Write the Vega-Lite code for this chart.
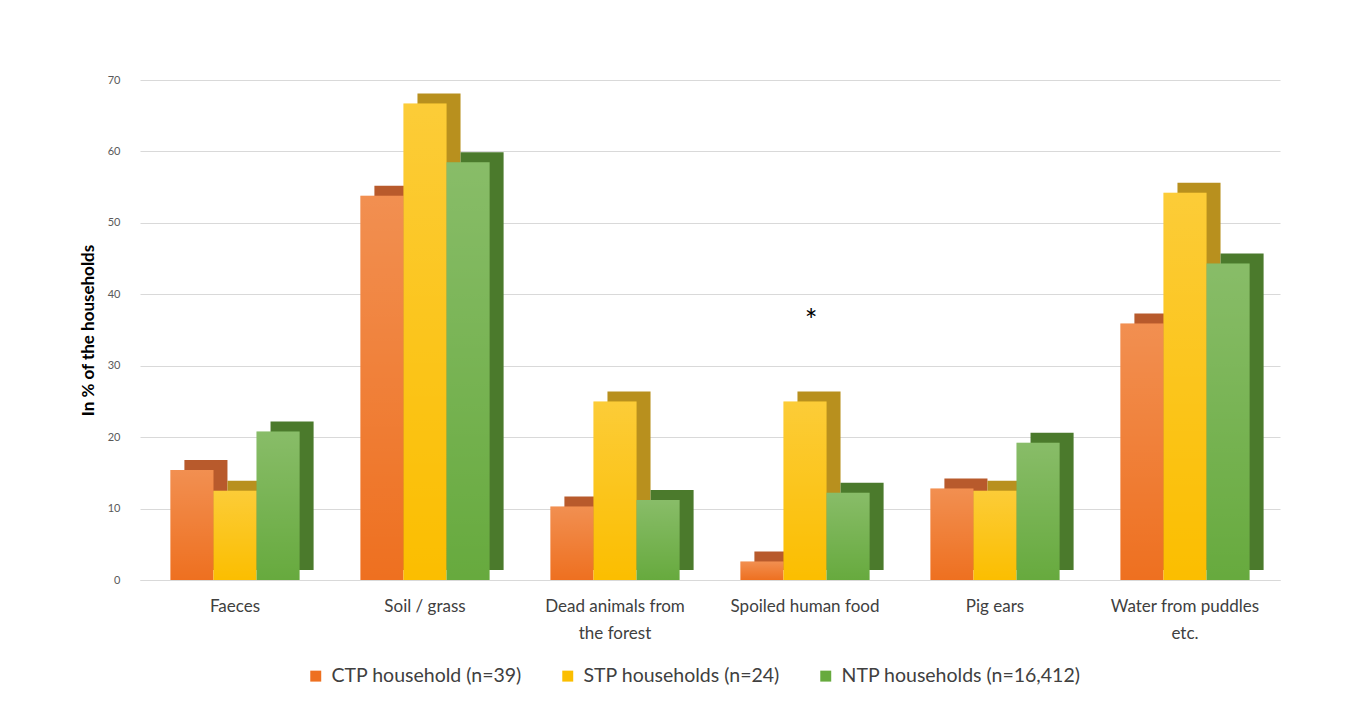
{
  "$schema": "https://vega.github.io/schema/vega-lite/v6.json",
  "autosize": {"type": "none"},
  "width": 1140,
  "height": 500,
  "padding": {"left": 140, "top": 80, "right": 84, "bottom": 144},
  "background": "white",
  "config": {"font": "Lato", "view": {"stroke": null}},
  "data": {
    "values": [
      {"category": "Faeces", "series": "CTP household (n=39)", "value": 15.4},
      {"category": "Faeces", "series": "STP households (n=24)", "value": 12.5},
      {"category": "Faeces", "series": "NTP households (n=16,412)", "value": 20.8},
      {"category": "Soil / grass", "series": "CTP household (n=39)", "value": 53.8},
      {"category": "Soil / grass", "series": "STP households (n=24)", "value": 66.7},
      {"category": "Soil / grass", "series": "NTP households (n=16,412)", "value": 58.5},
      {"category": "Dead animals from the forest", "series": "CTP household (n=39)", "value": 10.3},
      {"category": "Dead animals from the forest", "series": "STP households (n=24)", "value": 25.0},
      {"category": "Dead animals from the forest", "series": "NTP households (n=16,412)", "value": 11.2},
      {"category": "Spoiled human food", "series": "CTP household (n=39)", "value": 2.6},
      {"category": "Spoiled human food", "series": "STP households (n=24)", "value": 25.0},
      {"category": "Spoiled human food", "series": "NTP households (n=16,412)", "value": 12.2},
      {"category": "Pig ears", "series": "CTP household (n=39)", "value": 12.8},
      {"category": "Pig ears", "series": "STP households (n=24)", "value": 12.5},
      {"category": "Pig ears", "series": "NTP households (n=16,412)", "value": 19.2},
      {"category": "Water from puddles etc.", "series": "CTP household (n=39)", "value": 35.9},
      {"category": "Water from puddles etc.", "series": "STP households (n=24)", "value": 54.2},
      {"category": "Water from puddles etc.", "series": "NTP households (n=16,412)", "value": 44.3}
    ]
  },
  "encoding": {
    "x": {
      "field": "category",
      "type": "nominal",
      "sort": ["Faeces", "Soil / grass", "Dead animals from the forest", "Spoiled human food", "Pig ears", "Water from puddles etc."],
      "scale": {"paddingInner": 0.32, "paddingOuter": 0.16},
      "axis": {
        "title": null,
        "labelAngle": 0,
        "labelFontSize": 17,
        "labelColor": "#404040",
        "labelPadding": 18,
        "labelLimit": 0,
        "labelLineHeight": 27,
        "labelExpr": "datum.label == 'Dead animals from the forest' ? ['Dead animals from', 'the forest'] : datum.label == 'Water from puddles etc.' ? ['Water from puddles', 'etc.'] : datum.label",
        "ticks": false,
        "domainColor": "#d9d9d9"
      }
    },
    "y": {
      "field": "value",
      "type": "quantitative",
      "scale": {"domain": [0, 70], "nice": false},
      "axis": {
        "title": "In % of the households",
        "titleFontSize": 17,
        "titleFontWeight": "bold",
        "titleColor": "#000000",
        "titlePadding": 10,
        "values": [0, 10, 20, 30, 40, 50, 60, 70],
        "labelFontSize": 11,
        "labelColor": "#595959",
        "labelPadding": 20,
        "ticks": false,
        "domain": false,
        "gridColor": "#d9d9d9"
      }
    }
  },
  "resolve": {"scale": {"xOffset": "independent", "color": "independent"}},
  "layer": [
    {
      "mark": {"type": "bar", "yOffset": -10},
      "encoding": {
        "xOffset": {"field": "series", "type": "nominal", "sort": ["CTP household (n=39)", "STP households (n=24)", "NTP households (n=16,412)"], "scale": {"paddingInner": 0, "paddingOuter": 0, "range": [14, 143.2]}},
        "color": {
          "field": "series",
          "type": "nominal",
          "scale": {"domain": ["CTP household (n=39)", "STP households (n=24)", "NTP households (n=16,412)"], "range": ["#B85A2C", "#B8901E", "#4B7A2C"]},
          "legend": null
        }
      }
    },
    {
      "mark": {"type": "bar"},
      "encoding": {
        "xOffset": {"field": "series", "type": "nominal", "sort": ["CTP household (n=39)", "STP households (n=24)", "NTP households (n=16,412)"], "scale": {"paddingInner": 0, "paddingOuter": 0}},
        "color": {
          "field": "series",
          "type": "nominal",
          "scale": {"domain": ["CTP household (n=39)", "STP households (n=24)", "NTP households (n=16,412)"], "range": ["#EE7020", "#FBBE00", "#67AA3E"]},
          "legend": {
            "orient": "none",
            "legendX": 166,
            "legendY": 586,
            "direction": "horizontal",
            "title": null,
            "labelFontSize": 19.5,
            "labelColor": "#404040",
            "labelLimit": 400,
            "labelOffset": 6,
            "symbolType": "square",
            "symbolSize": 120,
            "symbolStrokeWidth": 0,
            "columnPadding": 36
          }
        }
      }
    },
    {
      "mark": {
        "type": "bar",
        "color": {"gradient": "linear", "x1": 0, "y1": 0, "x2": 0, "y2": 1, "stops": [{"offset": 0, "color": "rgba(255,255,255,0.22)"}, {"offset": 1, "color": "rgba(255,255,255,0)"}]}
      },
      "encoding": {
        "xOffset": {"field": "series", "type": "nominal", "sort": ["CTP household (n=39)", "STP households (n=24)", "NTP households (n=16,412)"], "scale": {"paddingInner": 0, "paddingOuter": 0}}
      }
    },
    {
      "data": {"values": [{"category": "Spoiled human food", "value": 37, "note": "*"}]},
      "mark": {"type": "text", "fontSize": 30, "color": "#000000", "dx": 6, "dy": 6},
      "encoding": {"text": {"field": "note"}}
    }
  ]
}
